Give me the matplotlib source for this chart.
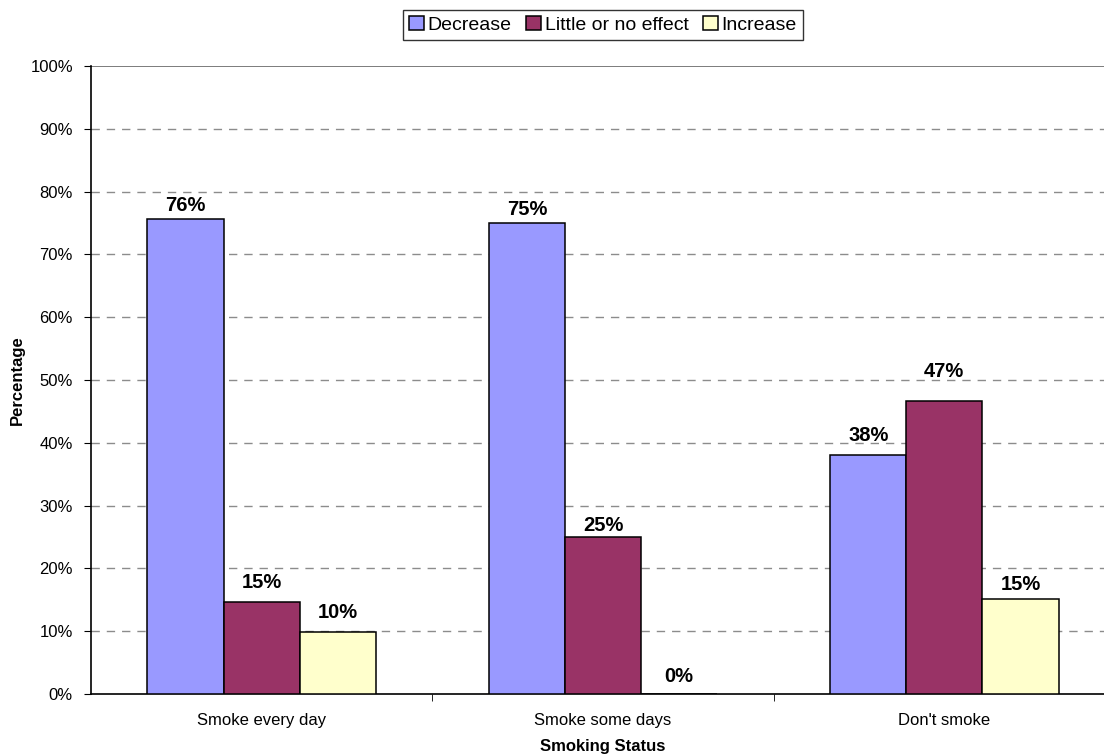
import numpy as np
import matplotlib
matplotlib.use("Agg")
import matplotlib.pyplot as plt

plt.rcParams['font.family'] = ['Liberation Sans', 'DejaVu Sans']

categories = ["Smoke every day", "Smoke some days", "Don't smoke"]
series_names = ["Decrease", "Little or no effect", "Increase"]
decrease = [75.6, 75.0, 38.0]
little = [14.6, 25.0, 46.7]
increase = [9.8, 0.0, 15.2]
labels = [["76%", "75%", "38%"], ["15%", "25%", "47%"], ["10%", "0%", "15%"]]
colors = ["#9999FF", "#993366", "#FFFFCC"]
# how far each data label sits above its bar, in pixels (as placed in the original)
label_gap = [[4, 4, 10], [10, 2, 20], [10, 8, 5]]

fig = plt.figure(figsize=(11.04, 7.56), dpi=100)
ax = fig.add_axes([91 / 1104, 62 / 756, 1024 / 1104, 628 / 756])

x = np.arange(len(categories))
w = 0.223
for i, (vals, name) in enumerate(zip([decrease, little, increase], series_names)):
    pos = x + (i - 1) * w
    ax.bar(pos, vals, width=w, color=colors[i], edgecolor="black",
           linewidth=1.1, label=name, zorder=3)
    for p, v, t, g in zip(pos, vals, labels[i], label_gap[i]):
        ax.annotate(t, (p, v), xytext=(0, g), textcoords="offset pixels",
                    ha="center", va="bottom", fontsize=14.5, fontweight="bold",
                    zorder=4)

ax.set_xlim(-0.5, 2.5)
ax.set_ylim(0, 100)
ax.set_yticks(np.arange(0, 101, 10))
ax.set_yticklabels([f"{v}%" for v in range(0, 101, 10)], fontsize=12)
ax.set_xticks(x)
ax.set_xticklabels(categories, fontsize=12)
ax.set_xticks([0.5, 1.5], minor=True)
ax.tick_params(axis="x", which="major", length=0, pad=14)
ax.tick_params(axis="x", which="minor", length=5, direction="out", color="black")
ax.tick_params(axis="y", length=5, direction="out", pad=8)

for y in range(10, 100, 10):
    ax.axhline(y, color="#8c8c8c", linestyle=(0, (6, 5)), linewidth=1.0, zorder=1)
ax.axhline(100, color="#666666", linewidth=1.2, zorder=1)

ax.spines["top"].set_visible(False)
ax.spines["right"].set_visible(False)
ax.spines["left"].set_linewidth(1.2)
ax.spines["bottom"].set_linewidth(1.2)

ax.set_ylabel("Percentage", fontsize=12, fontweight="bold")
ax.yaxis.set_label_coords((17 - 91) / 1024, 0.5)
ax.set_xlabel("Smoking Status", fontsize=12, fontweight="bold")
ax.xaxis.set_label_coords(0.5, (694 - 747) / 628)
ax.xaxis.label.set_va("center")
ax.yaxis.label.set_va("center")

leg = fig.legend(loc="center", bbox_to_anchor=(603 / 1104, 1 - 25 / 756), ncol=3,
                 fontsize=14, frameon=True, fancybox=False, edgecolor="black",
                 handlelength=0.75, handleheight=0.75, handletextpad=0.2,
                 columnspacing=0.75, borderpad=0.3, borderaxespad=0)
leg.get_frame().set_linewidth(1.0)

fig.savefig("out.png", dpi=100)
